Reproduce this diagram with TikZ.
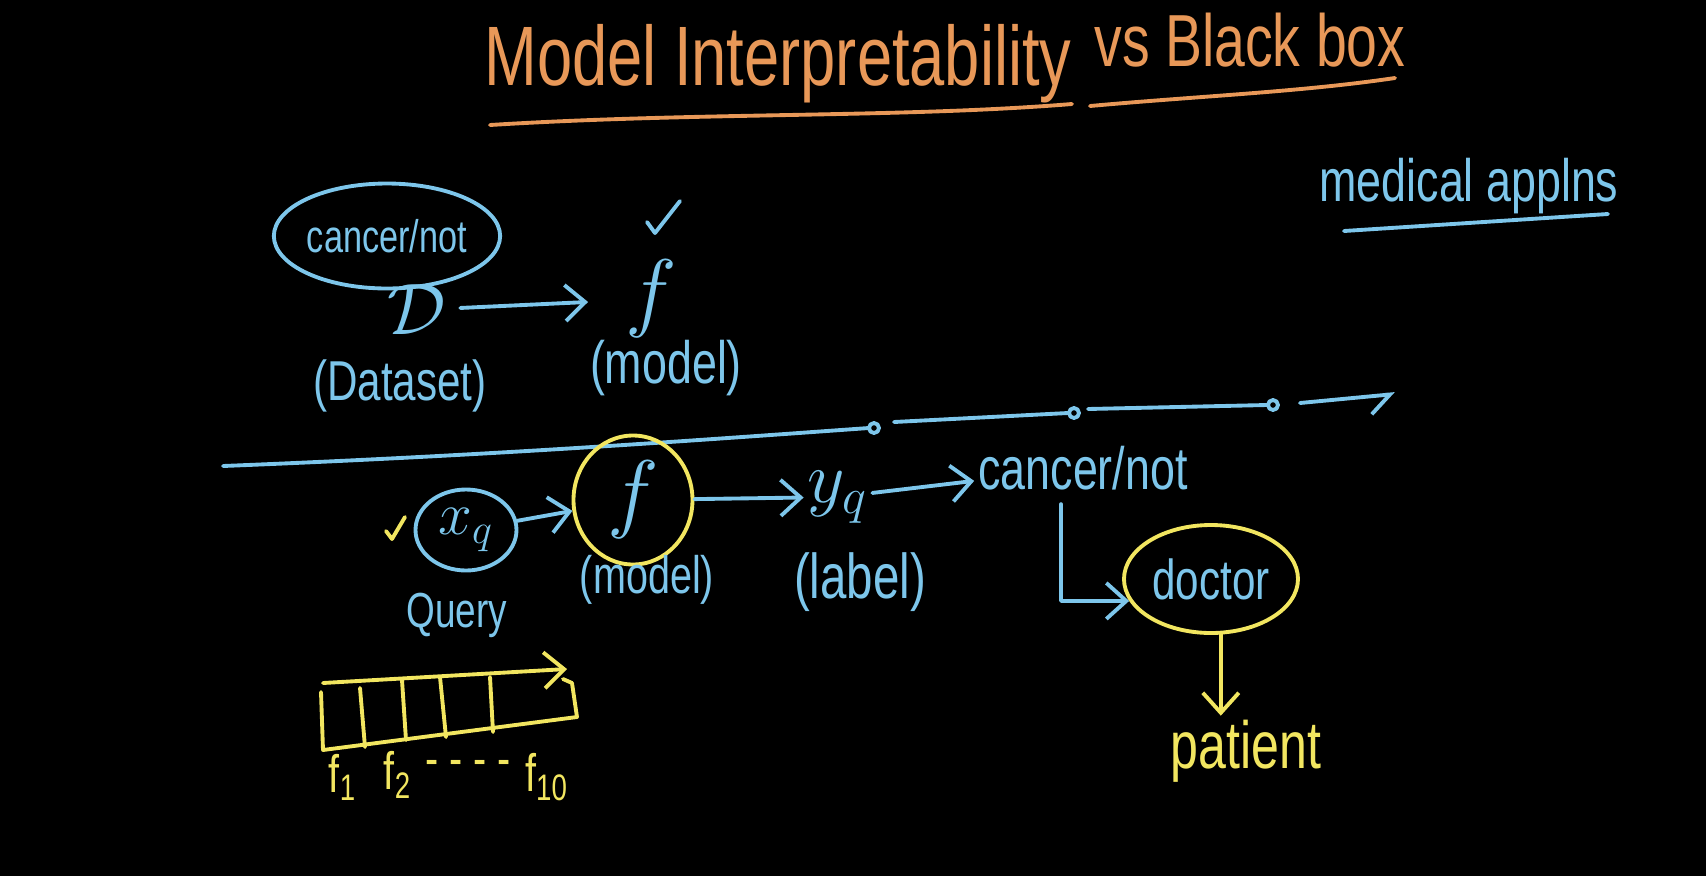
\documentclass[tikz,border=0pt]{standalone}
\usepackage{fontspec}
\setmainfont[FakeStretch=0.75]{Liberation Sans}
\usetikzlibrary{shapes.geometric,arrows.meta}

\begin{document}
\begin{tikzpicture}[x=0.1mm,y=-0.1mm,
  every node/.style={inner sep=1pt},
  ink/.style={line width=1.1pt,line cap=round,line join=round},
  arr/.style={ink,-{Straight Barb[length=2mm,width=3.6mm]}},
  ring/.style={ellipse,draw,ink,inner sep=0pt}]
  % colors
  \definecolor{kBlue}{RGB}{125,198,235}
  \definecolor{kYellow}{RGB}{242,230,96}
  \definecolor{kOrange}{RGB}{232,152,88}
  % board
  \fill[black] (0,0) rectangle (1706,876);

  % title
  \node[text=kOrange,font=\fontsize{24}{26}\selectfont] (title1) at (778,64) {Model Interpretability};
  \node[text=kOrange,font=\fontsize{21}{23}\selectfont] (title2) at (1250,40) {vs Black box};
  \draw[ink,kOrange] (490,125) .. controls (700,112) and (900,118) .. (1072,104);
  \draw[ink,kOrange] (1090,106) .. controls (1200,96) and (1300,92) .. (1395,78);

  % side note
  \node[text=kBlue,font=\fontsize{17}{19}\selectfont] (med) at (1469,186) {medical applns};
  \draw[ink,kBlue] (1344,231) -- (1608,214);

  % training
  \node[ring,draw=kBlue,minimum width=20.4mm,minimum height=10.5mm,text=kBlue,
        font=\fontsize{13}{15}\selectfont] (lbl) at (387,236) {cancer/not};
  \node[text=kBlue,font=\fontsize{22}{24}\selectfont] (data) at (417,310) {$\mathcal{D}$};
  \node[text=kBlue,font=\fontsize{24}{26}\selectfont] (model) at (651,299) {$f$};
  \node[text=kBlue,font=\fontsize{16}{18}\selectfont] (datacap) at (400,386) {(Dataset)};
  \node[text=kBlue,font=\fontsize{17}{19}\selectfont] (modelcap) at (666,368) {(model)};
  \draw[arr,kBlue,shorten <=1mm,shorten >=3.3mm] (data) -- (model);
  \draw[ink,kBlue] (647,222) -- (655,233) -- (680,201);

  % divider
  \draw[ink,kBlue] (223,466) .. controls (500,455) and (700,440) .. (869,428);
  \foreach \x/\y in {874/428,1074/413,1273/405} {
    \draw[ink,kBlue] (\x,\y) circle (5);
  };
  \draw[ink,kBlue] (894,422) -- (1068,413);
  \draw[ink,kBlue] (1088,409) -- (1267,405);
  \draw[ink,kBlue,-{Straight Barb[right,length=2mm,width=3.6mm]}] (1300,403) -- (1395,394);

  % query
  \node[ring,draw=kBlue,minimum width=10.1mm,minimum height=8.1mm,text=kBlue,
        font=\fontsize{18}{20}\selectfont] (xq) at (466,530) {$x_q$};
  \draw[ink,kYellow] (386,531) -- (392,539) -- (405,517);
  \node[ring,draw=kYellow,minimum width=11.9mm,minimum height=12.9mm,text=kBlue,
        font=\fontsize{28}{30}\selectfont] (fq) at (633,500) {$f$};
  \node[text=kBlue,font=\fontsize{15}{17}\selectfont] (fqcap) at (647,580) {(model)};
  \node[text=kBlue,font=\fontsize{20}{22}\selectfont] (yq) at (838,497) {$y_q$};
  \node[text=kBlue,font=\fontsize{18}{20}\selectfont] (yqcap) at (860,582) {(label)};
  \node[text=kBlue,font=\fontsize{17}{19}\selectfont] (pred) at (1083,468) {cancer/not};
  \node[ring,draw=kYellow,minimum width=17.4mm,minimum height=10.8mm,text=kBlue,
        font=\fontsize{16}{18}\selectfont] (doc) at (1211,579) {doctor};
  \node[text=kYellow,font=\fontsize{19}{21}\selectfont] (pat) at (1246,751) {patient};
  \node[text=kBlue,font=\fontsize{14}{16}\selectfont] (query) at (457,615) {Query};
  \draw[arr,kBlue] (xq) -- (fq);
  \draw[arr,kBlue] (fq) -- (yq);
  \draw[arr,kBlue] (yq) -- (pred);
  \draw[arr,kBlue] ([xshift=-2.2mm,yshift=-1mm]pred.south) |- (doc.195);
  \draw[arr,kYellow] (doc.-80) -- (doc.-80 |- pat.north);

  % feature vector
  \draw[ink,kYellow] (321,692) -- (323,750) -- (577,717) -- (572,683) -- (563,679);
  \draw[arr,kYellow] (323,683) -- (567,669);
  \foreach \xa/\ya/\xb/\yb in {360/688/365/747,402/680/406/740,440/677/446/737,490/677/493/732} {
    \draw[ink,kYellow] (\xa,\ya) -- (\xb,\yb);
  };
  \node[text=kYellow,font=\fontsize{15}{17}\selectfont] (f1) at (343,777) {f\textsubscript{1}};
  \node[text=kYellow,font=\fontsize{15}{17}\selectfont] (f2) at (398,775) {f\textsubscript{2}};
  \node[text=kYellow,font=\fontsize{15}{17}\selectfont] (dots) at (468,768) {- - - -};
  \node[text=kYellow,font=\fontsize{15}{17}\selectfont] (f10) at (547,777) {f\textsubscript{10}};
\end{tikzpicture}
\end{document}
